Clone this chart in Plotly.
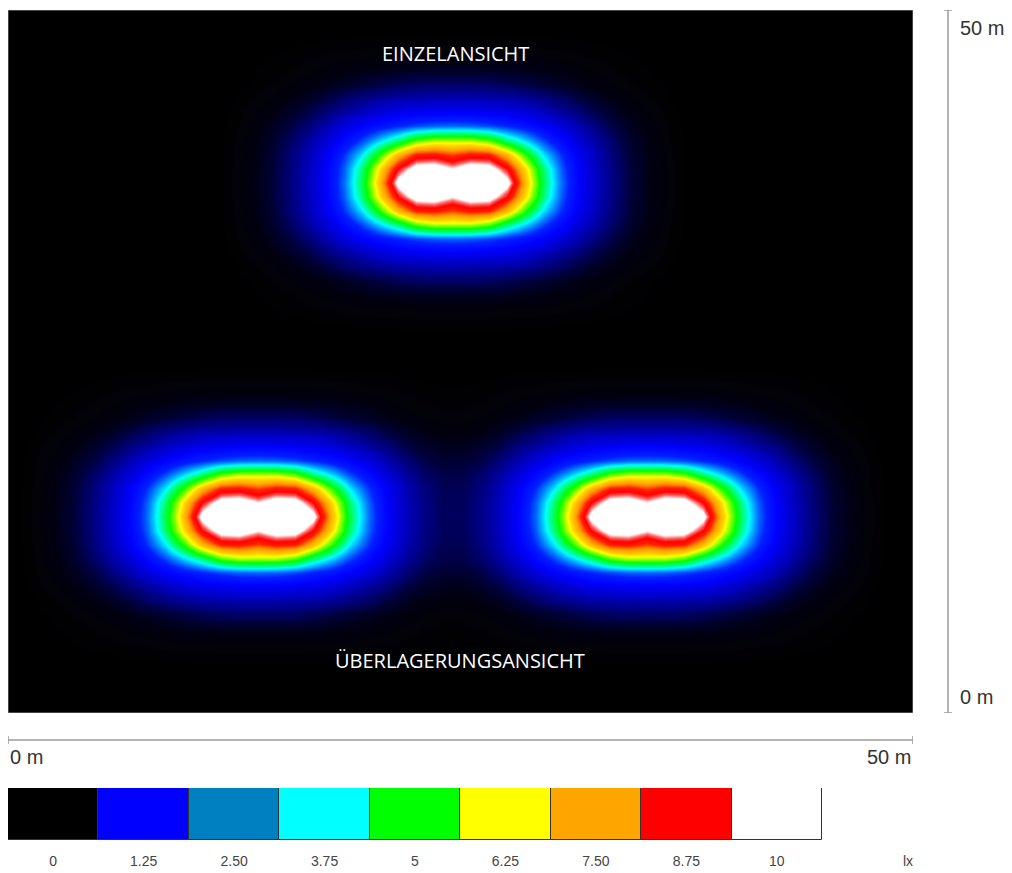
import numpy as np
import plotly.graph_objects as go

# ---------------- data ----------------
# Luminaire footprint centres (m): top = Einzelansicht, bottom two = Überlagerungsansicht
LUM_X = [24.55, 13.8, 35.3]
LUM_Y = [37.75, 14.0, 14.0]

# Illuminance (lx) of one luminaire footprint on a 1 m grid.
# Quarter of the (symmetric) footprint: rows dy = 0..10 m, columns dx = 0..12 m.
PATTERN_Q = [
    [11.0, 11.3, 11.1, 10.0, 7.5, 5.3, 3.7, 2.5, 1.7, 1.1, 0.6, 0.3, 0.1],
    [9.7, 10.2, 10.1, 9.0, 7.1, 5.1, 3.6, 2.45, 1.67, 1.08, 0.59, 0.29, 0.1],
    [8.35, 8.7, 8.6, 7.5, 5.9, 4.4, 3.3, 2.32, 1.61, 1.04, 0.56, 0.28, 0.09],
    [6.5, 6.5, 6.1, 5.1, 4.3, 3.45, 2.7, 1.95, 1.41, 0.9, 0.5, 0.25, 0.08],
    [3.65, 3.6, 3.45, 3.18, 2.9, 2.5, 2.02, 1.53, 1.09, 0.66, 0.39, 0.19, 0.06],
    [2.4, 2.38, 2.32, 2.22, 1.99, 1.7, 1.38, 1.1, 0.72, 0.46, 0.25, 0.13, 0.04],
    [1.55, 1.54, 1.49, 1.46, 1.34, 1.16, 0.94, 0.66, 0.44, 0.27, 0.14, 0.07, 0.02],
    [0.95, 0.95, 0.93, 0.83, 0.7, 0.58, 0.46, 0.33, 0.22, 0.13, 0.07, 0.03, 0.01],
    [0.45, 0.45, 0.44, 0.41, 0.37, 0.31, 0.25, 0.18, 0.12, 0.07, 0.04, 0.02, 0.0],
    [0.16, 0.16, 0.16, 0.15, 0.14, 0.12, 0.1, 0.08, 0.06, 0.04, 0.02, 0.01, 0.0],
    [0.05, 0.05, 0.05, 0.05, 0.04, 0.04, 0.03, 0.03, 0.02, 0.01, 0.01, 0.0, 0.0],
]

LEGEND_LABELS = ["0", "1.25", "2.50", "3.75", "5", "6.25", "7.50", "8.75", "10"]
LEGEND_COLORS = ["#000000", "#0000ff", "#0080c0", "#00ffff", "#00ff00",
                 "#ffff00", "#ffa500", "#ff0000", "#ffffff"]
UNIT = "lx"
TITLE_TOP = "EINZELANSICHT"
TITLE_BOTTOM = "ÜBERLAGERUNGSANSICHT"
AREA = 50  # m

# ---------------- build footprint ----------------
q = np.array(PATTERN_Q)
half = np.hstack([q[:, :0:-1], q])          # dx = -12..12
pat = np.vstack([half[:0:-1], half])        # dy = -10..10
hy, hx = (pat.shape[0] - 1) // 2, (pat.shape[1] - 1) // 2

# top luminaire: own trace, zero padded
top = np.pad(pat, 1)
top_x = LUM_X[0] + np.arange(-hx - 1, hx + 2)
top_y = LUM_Y[0] + np.arange(-hy - 1, hy + 2)

# bottom pair: combined field on a grid whose nodes hit both centres
nsteps = int(LUM_X[2] - LUM_X[1])
dx = (LUM_X[2] - LUM_X[1]) / nsteps
k0, k1 = -15, nsteps + 17
bot_x = LUM_X[1] + np.arange(k0, k1) * dx
m0, m1 = -14, 13
bot_y = LUM_Y[1] + np.arange(m0, m1)
bot = np.zeros((m1 - m0, k1 - k0))
r0 = -m0 - hy
for kc in (0, nsteps):
    c0 = kc - k0 - hx
    bot[r0:r0 + pat.shape[0], c0:c0 + pat.shape[1]] += pat

CS = [
    [0.00, "#000000"],
    [0.01, "#020208"],
    [0.03, "#000012"],
    [0.06, "#000034"],
    [0.11, "#000078"],
    [0.17, "#0000c0"],
    [0.25, "#0000ff"],
    [0.32, "#0020ff"],
    [0.38, "#0080ff"],
    [0.45, "#00ffff"],
    [0.50, "#00ff80"],
    [0.57, "#00ff00"],
    [0.63, "#80ff00"],
    [0.68, "#ffff00"],
    [0.72, "#ffd000"],
    [0.78, "#ffa000"],
    [0.82, "#ff6000"],
    [0.85, "#ff2000"],
    [0.90, "#ff0000"],
    [0.935, "#ff6060"],
    [0.97, "#ffffff"],
    [1.00, "#ffffff"],
]

fig = go.Figure()
for xs, ys, zz in ((bot_x, bot_y, bot), (top_x, top_y, top)):
    fig.add_trace(go.Heatmap(x=xs, y=ys, z=zz, zmin=0, zmax=10, colorscale=CS,
                             zsmooth="best", showscale=False, hoverinfo="skip"))

fig.add_trace(go.Bar(x=list(range(len(LEGEND_LABELS))), y=[1] * len(LEGEND_LABELS),
                     width=1, marker=dict(color=LEGEND_COLORS, line=dict(color="#333333", width=1)),
                     xaxis="x2", yaxis="y2", hoverinfo="skip", showlegend=False))

# page has an 8 px body margin: figure pixel = page pixel - 8
OFF = 8
W, H = 1012 - OFF, 873 - OFF
ML, MT = 8 - OFF, 10 - OFF
PR, PB = 913 - OFF, 840 - OFF          # plot right / bottom in figure pixels
MR, MB = W - PR, H - PB
pw, ph = PR - ML, PB - MT
def py(p):  # page pixel y -> paper
    return (PB - (p - OFF)) / ph
def px(p):  # page pixel x -> paper
    return ((p - OFF) - ML) / pw

unit_w = (822 - 8) / len(LEGEND_LABELS)
x2_max = -0.5 + pw / unit_w
lx_pos = -0.5 + (908 - 8) / unit_w
ypm = (713 - 10) / AREA   # page px per metre (vertical)

fig.update_layout(
    width=W, height=H, margin=dict(l=ML, r=MR, t=MT, b=MB, pad=0),
    paper_bgcolor="white", plot_bgcolor="white", showlegend=False,
    xaxis=dict(range=[0, AREA], domain=[0, 1], visible=False),
    yaxis=dict(range=[0, AREA], domain=[py(713), 1], visible=False),
    xaxis2=dict(range=[-0.5, x2_max], domain=[0, 1], anchor="y2",
                tickvals=list(range(len(LEGEND_LABELS))) + [lx_pos],
                ticktext=LEGEND_LABELS + [UNIT], ticks="outside", ticklen=8,
                tickcolor="rgba(0,0,0,0)", showgrid=False, zeroline=False, showline=False,
                tickfont=dict(family="Liberation Sans", size=14, color="#444444")),
    yaxis2=dict(range=[0, 1], domain=[0, py(788)], anchor="x2", visible=False),
    bargap=0,
)

grey = "#9a9a9a"
shapes = [
    dict(type="rect", xref="x", yref="y", x0=0, x1=AREA, y0=0, y1=AREA,
         fillcolor="#000000", line=dict(width=0), layer="below"),
    dict(type="rect", xref="x", yref="y", x0=0, x1=AREA, y0=0, y1=AREA,
         line=dict(color="#8a8a8a", width=1), layer="above"),
    # horizontal scale
    dict(type="line", xref="x", yref="paper", x0=0, x1=AREA, y0=py(740), y1=py(740),
         line=dict(color=grey, width=1.5)),
    dict(type="line", xref="x", yref="paper", x0=0, x1=0, y0=py(744), y1=py(736),
         line=dict(color=grey, width=1.5)),
    dict(type="line", xref="x", yref="paper", x0=AREA, x1=AREA, y0=py(744), y1=py(736),
         line=dict(color=grey, width=1.5)),
    # vertical scale
    dict(type="line", xref="paper", yref="y", x0=px(948), x1=px(948), y0=0, y1=AREA,
         line=dict(color=grey, width=1.5)),
    dict(type="line", xref="paper", yref="y", x0=px(944), x1=px(952), y0=0, y1=0,
         line=dict(color=grey, width=1.5)),
    dict(type="line", xref="paper", yref="y", x0=px(944), x1=px(952), y0=AREA, y1=AREA,
         line=dict(color=grey, width=1.5)),
]
fig.update_layout(shapes=shapes)

lab = dict(family="Liberation Sans", size=20, color="#333333")
ttl = dict(family="Open Sans", size=20, color="#ffffff")
ann = [
    dict(text=TITLE_TOP, x=24.75, y=AREA - (53 - 10) / ypm, xref="x", yref="y",
         showarrow=False, font=ttl),
    dict(text=TITLE_BOTTOM, x=24.97, y=AREA - (660 - 10) / ypm, xref="x", yref="y",
         showarrow=False, font=ttl),
    dict(text=f"{AREA} m", x=px(958), y=AREA - (28 - 10) / ypm, xref="paper", yref="y",
         xanchor="left", yanchor="middle", showarrow=False, font=lab),
    dict(text="0 m", x=px(958), y=AREA - (697 - 10) / ypm, xref="paper", yref="y",
         xanchor="left", yanchor="middle", showarrow=False, font=lab),
    dict(text="0 m", x=0, y=py(757), xref="x", yref="paper",
         xanchor="left", yanchor="middle", showarrow=False, font=lab),
    dict(text=f"{AREA} m", x=AREA, y=py(757), xref="x", yref="paper",
         xanchor="right", yanchor="middle", showarrow=False, font=lab),
]
fig.update_layout(annotations=ann)

fig.write_html("out.html")
